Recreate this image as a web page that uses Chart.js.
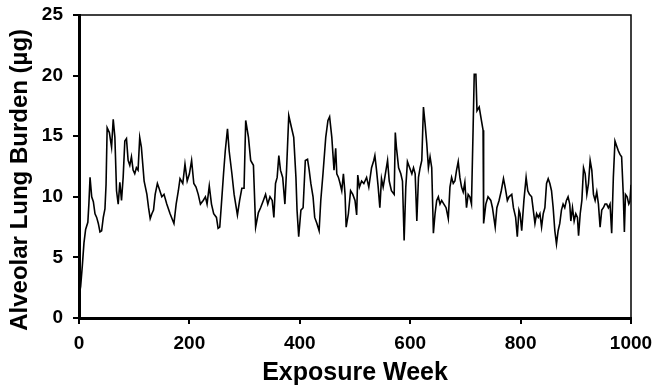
<!DOCTYPE html>
<html>
<head>
<meta charset="utf-8">
<script src="https://cdn.jsdelivr.net/npm/chart.js@4"></script>
<style>
  body { margin: 0; background: #fff; }
</style>
</head>
<body>
<canvas id="chart" width="654" height="388"></canvas>
<script>
// week numbers and burden (µg)
const weeks = [
  0, 3, 6, 9, 12, 16, 18, 20, 23, 26, 29, 32, 35, 38, 41, 44, 47, 49, 51, 55,
  59, 62, 65, 68, 71, 74, 77, 80, 83, 86, 89, 92, 95, 98, 101, 104, 107, 110, 113, 118,
  123, 126, 129, 132, 135, 138, 142, 145, 150, 154, 159, 165, 172, 176, 180, 183, 188, 192, 196, 200,
  204, 208, 212, 216, 220, 225, 229, 232, 236, 240, 244, 249, 252, 255, 258, 262, 265, 269, 272, 277,
  281, 287, 291, 295, 299, 302, 307, 311, 316, 320, 325, 329, 334, 338, 342, 346, 350, 353, 356, 359,
  362, 365, 369, 373, 376, 380, 385, 389, 393, 395, 398, 402, 406, 410, 414, 417, 420, 424, 427, 431,
  435, 438, 442, 447, 451, 454, 458, 462, 465, 467, 470, 473, 476, 479, 482, 484, 488, 492, 496, 500,
  503, 505, 508, 512, 516, 521, 525, 530, 534, 536, 539, 542, 545, 548, 551, 554, 559, 562, 566, 571,
  573, 575, 579, 583, 586, 589, 592, 595, 599, 603, 606, 609, 612, 615, 618, 621, 624, 627, 630, 633,
  636, 639, 642, 645, 648, 651, 654, 657, 661, 665, 669, 672, 675, 678, 681, 684, 687, 690, 693, 696,
  699, 702, 705, 708, 711, 714, 716, 719, 721, 725, 729, 732, 733, 737, 741, 746, 749, 754, 757, 761,
  765, 769, 772, 776, 779, 784, 787, 791, 794, 797, 799, 802, 806, 810, 813, 816, 820, 823, 826, 829,
  832, 835, 838, 841, 844, 847, 850, 853, 856, 859, 862, 865, 868, 871, 874, 877, 880, 883, 886, 889,
  891, 894, 897, 900, 903, 905, 908, 911, 914, 917, 920, 923, 926, 929, 932, 935, 938, 941, 944, 947,
  950, 953, 956, 959, 962, 965, 968, 971, 974, 977, 980, 983, 986, 988, 990, 993, 996, 998, 1000
]
const burden = [
  1.8, 2.6, 4.3, 6.2, 7.3, 7.9, 9.5, 11.6, 10.0, 9.6, 8.6, 8.3, 7.8, 7.1, 7.2, 8.3, 9.0, 11.0, 15.7, 15.3,
  14.1, 16.4, 14.9, 10.5, 9.4, 11.2, 9.7, 11.6, 14.6, 14.8, 13.0, 12.6, 13.3, 12.2, 11.9, 12.4, 12.2, 14.9, 14.1, 11.3,
  10.2, 9.1, 8.2, 8.6, 8.9, 10.2, 11.1, 10.7, 10.0, 10.2, 9.4, 8.6, 7.8, 9.4, 10.5, 11.5, 11.1, 12.7, 11.3, 11.9,
  13.0, 11.1, 10.8, 10.2, 9.4, 9.7, 10.0, 9.4, 10.9, 9.4, 8.6, 8.3, 7.4, 7.5, 9.4, 12.0, 13.8, 15.6, 13.8, 11.9,
  10.2, 8.5, 9.7, 10.7, 10.7, 16.3, 14.9, 13.0, 12.6, 7.5, 8.7, 9.1, 9.7, 10.2, 9.4, 10.0, 9.7, 8.3, 11.1, 11.6,
  13.4, 12.2, 11.6, 9.4, 12.2, 16.7, 15.7, 14.9, 11.6, 8.9, 6.7, 8.9, 9.1, 13.0, 13.1, 12.2, 11.1, 10.0, 8.3, 7.8,
  7.2, 9.7, 11.9, 14.9, 16.3, 16.6, 14.9, 12.2, 14.0, 11.9, 11.6, 11.1, 10.5, 11.9, 10.2, 7.5, 8.6, 10.5, 10.2, 9.7,
  8.5, 11.8, 10.8, 11.3, 11.1, 11.6, 10.8, 12.4, 13.0, 13.4, 12.2, 10.8, 9.1, 11.5, 10.8, 11.6, 13.0, 11.3, 10.5, 10.2,
  15.3, 14.1, 12.4, 11.9, 11.3, 6.4, 10.8, 12.9, 12.4, 11.9, 12.4, 11.9, 8.0, 11.6, 12.4, 13.0, 17.4, 16.0, 14.4, 12.4,
  13.3, 12.4, 7.0, 8.6, 9.7, 10.0, 9.4, 9.7, 9.4, 9.1, 8.2, 10.8, 11.6, 11.1, 11.3, 12.2, 12.9, 11.6, 10.8, 10.4,
  11.2, 9.1, 10.2, 10.0, 9.4, 15.7, 20.1, 20.1, 17.1, 17.4, 16.3, 15.5, 7.8, 9.4, 10.0, 9.7, 9.1, 7.5, 9.1, 9.7,
  10.5, 11.5, 10.8, 9.7, 10.0, 10.2, 9.1, 8.3, 6.7, 8.9, 8.6, 7.2, 9.7, 11.6, 10.5, 10.2, 10.0, 8.9, 7.8, 8.6,
  8.3, 8.6, 7.5, 8.6, 9.1, 11.1, 11.5, 11.1, 10.5, 9.1, 7.2, 6.1, 7.2, 7.8, 8.9, 9.4, 9.1, 9.7, 10.0, 9.4,
  8.0, 9.1, 8.0, 8.6, 8.3, 6.8, 8.6, 9.7, 12.4, 11.9, 10.2, 11.1, 13.0, 12.2, 10.2, 9.7, 10.4, 9.4, 7.5, 8.9,
  9.1, 9.4, 9.4, 9.1, 9.4, 7.0, 11.6, 14.6, 14.2, 13.8, 13.5, 13.3, 10.2, 7.1, 10.2, 10.0, 9.4, 9.6, 11.0
]
const xTicks = [0, 200, 400, 600, 800, 1000]
const yTicks = [0, 5, 10, 15, 20, 25]

const font = 'Liberation Sans, Arial, sans-serif'

// top and right edges of the plot box
const frame = {
  id: 'frame',
  afterDraw(chart) {
    const { ctx, chartArea: a } = chart
    ctx.save()
    ctx.strokeStyle = '#000'
    ctx.lineWidth = 1.5
    ctx.beginPath()
    ctx.moveTo(a.left, a.top)
    ctx.lineTo(a.right, a.top)
    ctx.lineTo(a.right, a.bottom)
    ctx.stroke()
    ctx.restore()
  }
}

const axisStyle = {
  grid: { drawOnChartArea: false, drawTicks: true, tickLength: 6, color: '#000', lineWidth: 2 },
  border: { display: true, color: '#000', width: 3 }
}

new Chart(document.getElementById('chart'), {
  type: 'line',
  data: {
    datasets: [{
      data: weeks.map((w, i) => ({ x: w, y: burden[i] })),
      borderColor: '#000',
      borderWidth: 1.6,
      pointRadius: 0,
      tension: 0,
      fill: false
    }]
  },
  options: {
    responsive: false,
    animation: false,
    layout: { padding: { left: 0, right: 23, top: 15, bottom: 0 } },
    plugins: { legend: { display: false }, tooltip: { enabled: false } },
    scales: {
      x: {
        type: 'linear',
        min: 0,
        max: 1000,
        afterBuildTicks: s => { s.ticks = xTicks.map(v => ({ value: v })) },
        // fixed height, and let the end labels hang into the padding
        afterFit: s => { s.height = 70; s.paddingLeft = 0; s.paddingRight = 0 },
        ticks: {
          color: '#000', padding: 8, maxRotation: 0,
          callback: v => String(v),
          font: { family: font, size: 19, weight: 'bold' }
        },
        title: { display: true, text: 'Exposure Week', color: '#000', padding: 0, font: { family: font, size: 25, weight: 'bold' } },
        ...axisStyle
      },
      y: {
        min: 0,
        max: 25,
        afterBuildTicks: s => { s.ticks = yTicks.map(v => ({ value: v })) },
        afterFit: s => { s.width = 79; s.paddingTop = 0; s.paddingBottom = 0 },
        ticks: { color: '#000', padding: 10, callback: v => String(v), font: { family: font, size: 19, weight: 'bold' } },
        title: {
          display: true,
          // trailing spaces push the label a little below the plot centre, as in the original
          text: 'Alveolar Lung Burden (µg)\u00a0\u00a0\u00a0\u00a0',
          color: '#000',
          padding: { top: 6 },
          font: { family: font, size: 24, weight: 'bold' }
        },
        ...axisStyle
      }
    }
  },
  plugins: [frame]
})
</script>
</body>
</html>
